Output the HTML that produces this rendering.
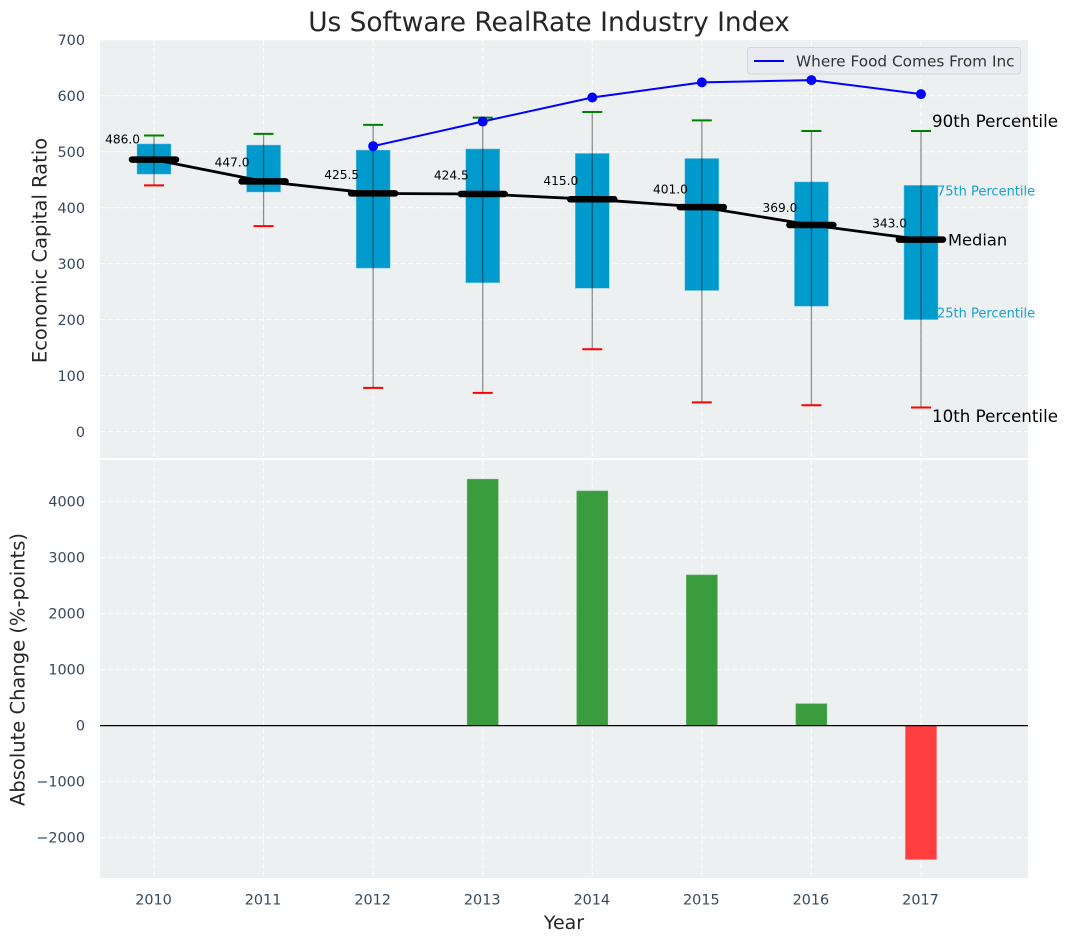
<!DOCTYPE html>
<html>
<head>
<meta charset="utf-8">
<title>Us Software RealRate Industry Index</title>
<style>
html,body{margin:0;padding:0;background:#fff;}
svg{display:block;font-family:"DejaVu Sans","Liberation Sans",sans-serif;}
</style>
</head>
<body>
<svg id="chart" xmlns="http://www.w3.org/2000/svg" width="1067" height="942" viewBox="0 0 1067 942"></svg>
<script>
const years = [2010, 2011, 2012, 2013, 2014, 2015, 2016, 2017];
const p90 = [529, 532, 548, 561, 571, 556, 537, 537];
const p75 = [514, 512, 503, 505, 497, 488, 446, 440];
const medians = [486.0, 447.0, 425.5, 424.5, 415.0, 401.0, 369.0, 343.0];
const p25 = [460, 428, 292, 266, 256, 252, 224, 200];
const p10 = [440, 367, 78, 69, 147, 52, 47, 43];
const companyValues = [null, null, 510, 554, 597, 624, 628, 603];
const changes = [null, null, null, 4400, 4190, 2690, 390, -2390];
const topTicks = [0, 100, 200, 300, 400, 500, 600, 700];
const bottomTicks = [-2000, -1000, 0, 1000, 2000, 3000, 4000];
const legendLabel = 'Where Food Comes From Inc';

const NS = 'http://www.w3.org/2000/svg';
const svg = document.getElementById('chart');
const PLOT_LEFT = 100, PLOT_RIGHT = 1028;
const TOP_PANEL = {top: 40, bottom: 458};
const BOTTOM_PANEL = {top: 460, bottom: 878};
const TICK_COLOR = '#34495e';
const TICK_SIZE = 14.4;

function xScale(year) { return 154 + (year - 2010) * 109.57; }
function yTop(v) { return 431.5 - v * 0.5595; }
function yBottom(v) { return 725.6 - v * 0.0560; }
function tickText(v) { return String(v).replace('-', '\u2212'); }

function make(tag, attrs, text) {
  const el = document.createElementNS(NS, tag);
  for (const k in attrs) el.setAttribute(k, attrs[k]);
  if (text !== undefined) el.textContent = text;
  svg.appendChild(el);
  return el;
}

/* panels */
let panel = make('rect', {x: PLOT_LEFT, y: TOP_PANEL.top, width: PLOT_RIGHT - PLOT_LEFT, height: TOP_PANEL.bottom - TOP_PANEL.top, fill: '#ecf0f1'});


panel = make('rect', {x: PLOT_LEFT, y: BOTTOM_PANEL.top, width: PLOT_RIGHT - PLOT_LEFT, height: BOTTOM_PANEL.bottom - BOTTOM_PANEL.top, fill: '#ecf0f1'});



const gridStyle = {stroke: '#ffffff', 'stroke-opacity': 0.85, 'stroke-width': 1, 'stroke-dasharray': '5.5 2.4'};

/* grid + y ticks, top panel */
topTicks.forEach(function (t) {
  const y = yTop(t);
  const g = make('line', Object.assign({x1: PLOT_LEFT, x2: PLOT_RIGHT, y1: y, y2: y}, gridStyle));
  
  
  const l = make('text', {x: 85, y: y + 5.3, 'text-anchor': 'end', 'font-size': TICK_SIZE, fill: TICK_COLOR}, tickText(t));
  
  
});
/* grid + y ticks, bottom panel */
bottomTicks.forEach(function (t) {
  const y = yBottom(t);
  const g = make('line', Object.assign({x1: PLOT_LEFT, x2: PLOT_RIGHT, y1: y, y2: y}, gridStyle));
  
  
  const l = make('text', {x: 85, y: y + 5, 'text-anchor': 'end', 'font-size': TICK_SIZE, fill: TICK_COLOR}, tickText(t));
  
  
});
/* vertical grid + x ticks */
years.forEach(function (yr) {
  const x = xScale(yr);
  const g1 = make('line', Object.assign({x1: x, x2: x, y1: TOP_PANEL.top, y2: TOP_PANEL.bottom}, gridStyle));
  
  
  const g2 = make('line', Object.assign({x1: x, x2: x, y1: BOTTOM_PANEL.top, y2: BOTTOM_PANEL.bottom}, gridStyle));
  
  
  const l = make('text', {x: x - 0.5, y: 904.5, 'text-anchor': 'middle', 'font-size': TICK_SIZE, fill: TICK_COLOR}, String(yr));
  
  
});

/* boxes and whiskers */
years.forEach(function (yr, i) {
  const x = xScale(yr);
  const box = make('rect', {x: x - 17, y: yTop(p75[i]), width: 34, height: yTop(p25[i]) - yTop(p75[i]), fill: '#009acd', stroke: '#7cc8e4', 'stroke-width': 0.5});
  
  
  const w = make('line', {x1: x, x2: x, y1: yTop(p90[i]), y2: yTop(p10[i]), stroke: '#000000', 'stroke-opacity': 0.42, 'stroke-width': 1.3});
  
  
  const hi = make('line', {x1: x - 10, x2: x + 10, y1: yTop(p90[i]), y2: yTop(p90[i]), stroke: '#008000', 'stroke-width': 2});
  
  
  const lo = make('line', {x1: x - 10, x2: x + 10, y1: yTop(p10[i]), y2: yTop(p10[i]), stroke: '#ff0000', 'stroke-width': 2});
  
  
});

/* median trend line */
const medLine = make('polyline', {points: years.map(function (yr, i) { return xScale(yr) + ',' + yTop(medians[i]); }).join(' '), fill: 'none', stroke: '#000000', 'stroke-width': 2.8});



years.forEach(function (yr, i) {
  const x = xScale(yr), y = yTop(medians[i]);
  const m = make('line', {x1: x - 22, x2: x + 22, y1: y, y2: y, stroke: '#000000', 'stroke-width': 6.5, 'stroke-linecap': 'round'});
  
  
  const t = make('text', {x: x - 14, y: yTop(medians[i] * 1.05 + 13) + 4.8, 'text-anchor': 'end', 'font-size': 12.2, fill: '#000000'}, medians[i].toFixed(1));
  
  
});

/* company line */
const companyPts = [];
years.forEach(function (yr, i) {
  if (companyValues[i] !== null) companyPts.push(xScale(yr) + ',' + yTop(companyValues[i]));
});
const compLine = make('polyline', {points: companyPts.join(' '), fill: 'none', stroke: '#0000ff', 'stroke-width': 2});


years.forEach(function (yr, i) {
  if (companyValues[i] === null) return;
  const c = make('circle', {cx: xScale(yr), cy: yTop(companyValues[i]), r: 5, fill: '#0000ff'});
  
  
});

/* change bars */
years.forEach(function (yr, i) {
  const v = changes[i];
  if (v === null) return;
  const x = xScale(yr);
  const y0 = yBottom(0), y1 = yBottom(v);
  const b = make('rect', {x: x - 15.5, y: Math.min(y0, y1), width: 31, height: Math.abs(y1 - y0), fill: v >= 0 ? '#3b9c3e' : '#ff3f3f', stroke: v >= 0 ? '#62b066' : '#ff6666', 'stroke-width': 0.6});
  
  
});
const zero = make('line', {x1: PLOT_LEFT, x2: PLOT_RIGHT, y1: yBottom(0), y2: yBottom(0), stroke: '#000000', 'stroke-width': 1.3});



/* percentile annotations, anchored on the last box */
const last = years.length - 1;
const lastX = xScale(years[last]);
let note = make('text', {x: lastX + 11, y: yTop(p90[last]) - 4, 'font-size': 16.7, fill: '#000000'}, '90th Percentile');


note = make('text', {x: lastX + 16, y: yTop(p75[last]) + 10.3, 'font-size': 13, fill: '#1a9fd0'}, '75th Percentile');


note = make('text', {x: lastX + 27, y: yTop(medians[last]) + 5.8, 'font-size': 16.3, fill: '#000000'}, 'Median');


note = make('text', {x: lastX + 16, y: yTop(p25[last]) - 2.2, 'font-size': 13, fill: '#1a9fd0'}, '25th Percentile');


note = make('text', {x: lastX + 11, y: yTop(p10[last]) + 14.8, 'font-size': 16.7, fill: '#000000'}, '10th Percentile');



/* legend */
const legendBox = make('rect', {x: 747.5, y: 47.5, width: 273, height: 26.5, rx: 3, fill: '#eaebf1', stroke: '#d5d5da', 'stroke-width': 1});


const legendLine = make('line', {x1: 754, x2: 784, y1: 61, y2: 61, stroke: '#0000ff', 'stroke-width': 2});


const legendText = make('text', {x: 796, y: 66.5, 'font-size': 15.3, fill: '#333333'}, legendLabel);



/* titles */
const title = make('text', {x: 549, y: 31, 'text-anchor': 'middle', 'font-size': 26.4, fill: '#262626'}, 'Us Software RealRate Industry Index');


const xTitle = make('text', {x: 564, y: 929, 'text-anchor': 'middle', 'font-size': 19, fill: '#262626'}, 'Year');


const yT1 = make('text', {x: 0, y: 0, 'text-anchor': 'middle', 'font-size': 19.5, fill: '#262626', transform: 'translate(46.5,250.5) rotate(-90)'}, 'Economic Capital Ratio');


const yT2 = make('text', {x: 0, y: 0, 'text-anchor': 'middle', 'font-size': 19.5, fill: '#262626', transform: 'translate(24.5,669.5) rotate(-90)'}, 'Absolute Change (%-points)');


</script>
</body>
</html>
